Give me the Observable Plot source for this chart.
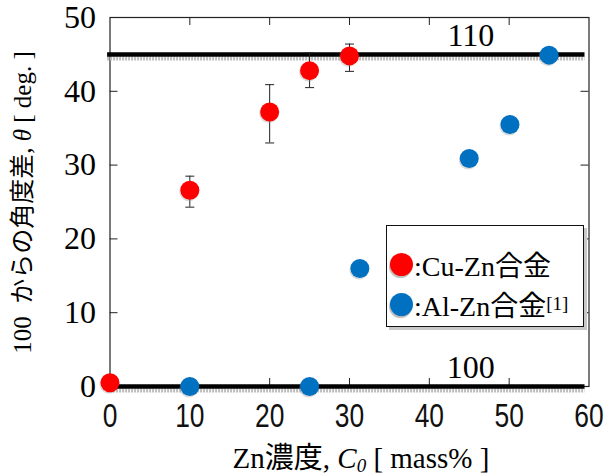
<!DOCTYPE html>
<html>
<head>
<meta charset="utf-8">
<script src="https://cdn.jsdelivr.net/npm/d3@7"></script>
<script src="https://cdn.jsdelivr.net/npm/@observablehq/plot@0.6"></script>
<style>
  html, body { margin: 0; padding: 0; background: #fff; }
  #wrap { position: relative; width: 615px; height: 476px; }
  #legend {
    position: absolute; left: 386px; top: 225px; width: 196px; height: 100px;
    border: 1.5px solid #111; background: #fff;
    box-shadow: 3px 3px 0 #c8c8c8;
    font-family: "Liberation Serif", "Noto Sans CJK JP", serif; font-size: 28px; color: #000;
  }
  .li { position: absolute; left: 3px; display: flex; align-items: center; white-space: nowrap; }
  .sw { width: 23px; height: 23px; border-radius: 50%; display: inline-block; margin-right: 1px; box-shadow: -1px 2px 1px #bbb; }
  sup { font-size: 19px; vertical-align: 12px; line-height: 0; }
</style>
</head>
<body>
<div id="wrap"></div>
<script>
// ---- data ----
const xTicks = [0, 10, 20, 30, 40, 50, 60];
const yTicks = [0, 10, 20, 30, 40, 50];
const cuX   = [0, 10, 20, 25, 30];
const cuY   = [0.5, 26.6, 37.2, 42.8, 44.8];
const cuLo  = [null, 24.3, 33.0, 40.5, 42.7];
const cuHi  = [null, 28.5, 40.9, 45.2, 46.4];
const alX   = [10, 25, 31.3, 45, 50.1, 55];
const alY   = [0, 0, 16.0, 30.9, 35.5, 44.9];
const refY      = [45, 0];
const refLabels = ["110", "100"];
const refX1 = -0.3, refX2 = 59.5;
const seriesNames = [":Cu-Zn合金", ":Al-Zn合金"];
const colors = ["#ff0000", "#0070c0"];

const cu = cuX.map((x, i) => ({x, y: cuY[i], lo: cuLo[i], hi: cuHi[i]}));
const cuErr = cu.filter(d => d.lo != null);
const al = alX.map((x, i) => ({x, y: alY[i]}));
const refs = refY.map((y, i) => ({y, label: refLabels[i], x1: refX1, x2: refX2}));

const W = 615, H = 476;
const mL = 109.5, mR = 26.5, mT = 17, mB = 90;
const pw = W - mL - mR, ph = H - mT - mB;

const capSymbol = { draw(ctx, size) { const r = Math.sqrt(size / Math.PI); ctx.moveTo(-r, 0); ctx.lineTo(r, 0); } };

const serif = "Liberation Serif, Noto Sans CJK JP, serif";

const plot = Plot.plot({
  width: W, height: H,
  marginLeft: mL, marginRight: mR, marginTop: mT, marginBottom: mB,
  x: {domain: [0, 60]},
  y: {domain: [0, 50]},
  style: {background: "#fff", color: "#000"},
  marks: [
    Plot.frame({stroke: "#222", strokeWidth: 1.2}),
    // inward ticks
    Plot.tickX(xTicks.slice(1, -1), {x: d => d, insetTop: ph - 8, stroke: "#222"}),
    Plot.tickX(xTicks.slice(1, -1), {x: d => d, insetBottom: ph - 8, stroke: "#222"}),
    Plot.tickY(yTicks.slice(1, -1), {y: d => d, insetRight: pw - 8, stroke: "#222"}),
    Plot.tickY(yTicks.slice(1, -1), {y: d => d, insetLeft: pw - 8, stroke: "#222"}),
    // tick labels
    Plot.axisX(xTicks, {anchor: "bottom", tickSize: 0, tickPadding: 17, fontSize: 33, fontFamily: "Liberation Sans, Arial, sans-serif", fill: "#111", label: null}),
    Plot.axisY(yTicks, {anchor: "left", tickSize: 0, tickPadding: 14, fontSize: 32, fontFamily: "Liberation Serif, serif", label: null}),
    // reference lines with shadow
    Plot.ruleY(refs, {y: "y", x1: "x1", x2: "x2", dy: 4, stroke: "#bdbdbd", strokeWidth: 4, strokeDasharray: "2,1"}),
    Plot.ruleY(refs, {y: "y", x1: "x1", x2: "x2", stroke: "#000", strokeWidth: 4.5}),
    Plot.text(refs, {x: 45.2, y: "y", text: "label", dy: -19, fontSize: 32, fontFamily: "Liberation Serif, serif", fill: "#000"}),
    // error bars
    Plot.ruleX(cuErr, {x: "x", y1: "lo", y2: "hi", stroke: "#222", strokeWidth: 1}),
    Plot.dot(cuErr, {x: "x", y: "lo", symbol: capSymbol, r: 4.5, stroke: "#222", strokeWidth: 1}),
    Plot.dot(cuErr, {x: "x", y: "hi", symbol: capSymbol, r: 4.5, stroke: "#222", strokeWidth: 1}),
    // dot shadows
    Plot.dot(cu, {x: "x", y: "y", r: 9.5, fill: "#999", fillOpacity: 0.35, dx: -1, dy: 1.5}),
    Plot.dot(al, {x: "x", y: "y", r: 9.5, fill: "#999", fillOpacity: 0.35, dx: -1, dy: 1.5}),
    // dots
    Plot.dot(cu, {x: "x", y: "y", r: 9.5, fill: colors[0]}),
    Plot.dot(al, {x: "x", y: "y", r: 9.5, fill: colors[1]})
  ]
});

const svg = d3.select(plot);
// narrow the x tick labels (Arial Narrow look)
svg.selectAll('g[aria-label="x-axis tick label"] text').each(function() {
  const t = d3.select(this);
  const prev = t.attr("transform") || "";
  t.attr("transform", `${prev} scale(0.8,1)`);
});
// y axis title
const yt = svg.append("text")
  .attr("transform", `translate(31,${mT + ph / 2 + 1}) rotate(-90)`)
  .attr("text-anchor", "middle")
  .attr("font-family", serif).attr("font-size", 25).attr("fill", "#000");
yt.append("tspan").text("100  からの角度差, ");
yt.append("tspan").attr("font-style", "italic").text("θ");
yt.append("tspan").text(" [ deg. ]");
// x axis title
const xt = svg.append("text")
  .attr("x", mL + pw / 2 + 12).attr("y", H - 8)
  .attr("text-anchor", "middle")
  .attr("font-family", serif).attr("font-size", 29).attr("fill", "#000");
xt.append("tspan").text("Zn濃度, ");
xt.append("tspan").attr("font-style", "italic").text("C");
xt.append("tspan").attr("font-style", "italic").attr("font-size", 19).attr("dy", 4).text("0");
xt.append("tspan").attr("dy", -4).text(" [ mass% ]");

const wrap = document.getElementById("wrap");
wrap.appendChild(plot);

const legend = document.createElement("div");
legend.id = "legend";
legend.innerHTML =
  `<div class="li" style="top:18px"><span class="sw" style="background:${colors[0]}"></span>${seriesNames[0]}</div>` +
  `<div class="li" style="top:58px"><span class="sw" style="background:${colors[1]}"></span>${seriesNames[1]}<sup>[1]</sup></div>`;
wrap.appendChild(legend);
</script>
</body>
</html>
